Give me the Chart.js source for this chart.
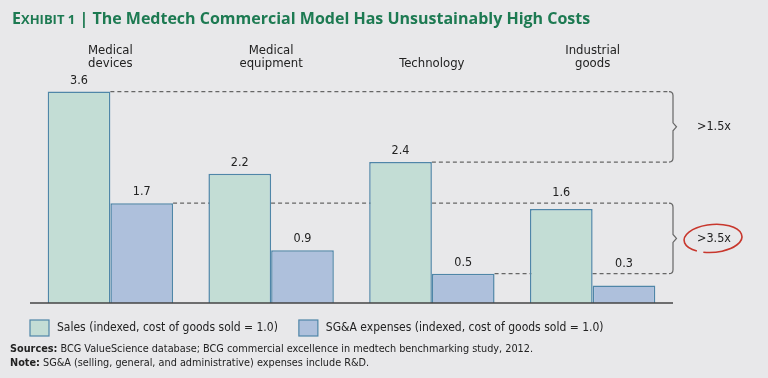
<!DOCTYPE html>
<html>
<head>
<meta charset="utf-8">
<script src="https://cdn.jsdelivr.net/npm/chart.js@4.4.1/dist/chart.umd.min.js"></script>
<style>
  body { margin: 0; background: #e8e8ea; }
  #wrap { position: relative; width: 768px; height: 378px; overflow: hidden; }
  #chart { position: absolute; left: 0; top: 0; }
  .title { position: absolute; left: 12px; top: 7px; color: #1d7a52; font: 700 16px "Open Sans", sans-serif; white-space: nowrap; }
  .title .sc { font-size: 13px; }
  .notes { position: absolute; left: 10px; top: 342px; font: 10.8px "DejaVu Sans Condensed", sans-serif; color: #222; line-height: 14px; white-space: nowrap; }
</style>
</head>
<body>
<div id="wrap">
  <canvas id="chart" width="768" height="378"></canvas>
  <div class="title">E<span class="sc">XHIBIT 1</span> | The Medtech Commercial Model Has Unsustainably High Costs</div>
  <div class="notes"><b>Sources:</b> BCG ValueScience database; BCG commercial excellence in medtech benchmarking study, 2012.<br><b>Note:</b> SG&amp;A (selling, general, and administrative) expenses include R&amp;D.</div>
</div>
<script>
const categories = [['Medical', 'devices'], ['Medical', 'equipment'], 'Technology', ['Industrial', 'goods']];
const salesValues = [3.6, 2.2, 2.4, 1.6];
const sgaValues = [1.7, 0.9, 0.5, 0.3];
const seriesNames = ['Sales (indexed, cost of goods sold = 1.0)', 'SG&A expenses (indexed, cost of goods sold = 1.0)'];
// gaps marked by braces: [dataset, index] of top and bottom line
const gapNotes = [
    { label: '>1.5x', top: [0, 0], bottom: [0, 2], circled: false },
    { label: '>3.5x', top: [1, 0], bottom: [1, 2], circled: true }
];

const textFont = '"DejaVu Sans Condensed", sans-serif';
const borderBlue = '#4f86a8';

// dashed lines: start x (right edge of the bar) and y
function gapLines(chart) {
    const lines = [];
    gapNotes.forEach(note => {
        [note.top, note.bottom].forEach(ref => {
            const bar = chart.getDatasetMeta(ref[0]).data[ref[1]];
            lines.push({ x: bar.x + bar.width / 2, y: bar.y });
        });
    });
    return lines;
}

const annotations = {
    id: 'annotations',
    beforeDatasetsDraw(chart) {
        const ctx = chart.ctx;
        const right = chart.chartArea.right;
        ctx.save();
        ctx.strokeStyle = '#666';
        ctx.lineWidth = 1.2;
        gapNotes.forEach(note => {
            const a = chart.getDatasetMeta(note.top[0]).data[note.top[1]];
            const b = chart.getDatasetMeta(note.bottom[0]).data[note.bottom[1]];
            const y1 = a.y, y2 = b.y, r = 4;
            const x1 = a.x + a.width / 2, x2 = b.x + b.width / 2;
            ctx.setLineDash([4, 3]);
            ctx.beginPath();
            ctx.moveTo(x1, y1); ctx.lineTo(right - r, y1);
            ctx.moveTo(x2, y2); ctx.lineTo(right - r, y2);
            ctx.stroke();
            ctx.setLineDash([]);
            const mid = (y1 + y2) / 2;
            ctx.beginPath();
            ctx.moveTo(right - r, y1);
            ctx.quadraticCurveTo(right, y1, right, y1 + r);
            ctx.lineTo(right, mid - 4);
            ctx.lineTo(right + 3.5, mid);
            ctx.lineTo(right, mid + 4);
            ctx.lineTo(right, y2 - r);
            ctx.quadraticCurveTo(right, y2, right - r, y2);
            ctx.stroke();
        });
        ctx.restore();
    },
    afterDatasetsDraw(chart) {
        const ctx = chart.ctx;
        const area = chart.chartArea;
        const zero = chart.scales.y.getPixelForValue(0);
        const lines = gapLines(chart);
        ctx.save();
        // baseline
        ctx.strokeStyle = '#444';
        ctx.lineWidth = 1.5;
        ctx.beginPath();
        ctx.moveTo(area.left, zero);
        ctx.lineTo(area.right, zero);
        ctx.stroke();
        // value labels, lifted above a dashed line when it would cross them
        ctx.fillStyle = '#222';
        ctx.font = '12.5px ' + textFont;
        ctx.textAlign = 'center';
        ctx.textBaseline = 'bottom';
        chart.data.datasets.forEach((ds, i) => {
            chart.getDatasetMeta(i).data.forEach((bar, j) => {
                let ly = bar.y - 5;
                lines.forEach(l => {
                    if (bar.x > l.x && l.y < bar.y - 1 && l.y > ly - 14) ly = l.y - 4;
                });
                ctx.fillText(ds.data[j].toFixed(1), bar.x, ly);
            });
        });
        // gap labels
        ctx.textAlign = 'left';
        ctx.textBaseline = 'middle';
        ctx.font = '12.5px ' + textFont;
        gapNotes.forEach(note => {
            const a = chart.getDatasetMeta(note.top[0]).data[note.top[1]];
            const b = chart.getDatasetMeta(note.bottom[0]).data[note.bottom[1]];
            const mid = (a.y + b.y) / 2;
            const tx = area.right + 24;
            ctx.fillText(note.label, tx, mid);
            if (note.circled) {
                ctx.strokeStyle = '#c8372d';
                ctx.lineWidth = 1.6;
                ctx.beginPath();
                ctx.ellipse(tx + 16, mid, 29, 14, -0.08, 2.2, 2.2 + Math.PI * 2 - 0.25);
                ctx.stroke();
            }
        });
        ctx.restore();
    },
    afterDraw(chart) {
        const ctx = chart.ctx;
        const left = chart.chartArea.left;
        ctx.save();
        ctx.font = '12px ' + textFont;
        ctx.textBaseline = 'middle';
        let x = left;
        const y = 328;
        chart.data.datasets.forEach(ds => {
            ctx.fillStyle = ds.backgroundColor;
            ctx.strokeStyle = ds.borderColor;
            ctx.lineWidth = 1.2;
            ctx.fillRect(x, y - 8, 19, 16);
            ctx.strokeRect(x, y - 8, 19, 16);
            ctx.fillStyle = '#222';
            ctx.fillText(ds.label, x + 27, y);
            x += 27 + ctx.measureText(ds.label).width + 21;
        });
        ctx.restore();
    }
};

new Chart(document.getElementById('chart'), {
    type: 'bar',
    data: {
        labels: categories,
        datasets: [
            {
                label: seriesNames[0],
                data: salesValues,
                backgroundColor: '#c3ddd5',
                borderColor: borderBlue,
                borderWidth: 1.5
            },
            {
                label: seriesNames[1],
                data: sgaValues,
                backgroundColor: '#aec0dc',
                borderColor: borderBlue,
                borderWidth: 1.5
            }
        ]
    },
    options: {
        responsive: false,
        animation: false,
        categoryPercentage: 0.78,
        barPercentage: 1,
        layout: { padding: { left: 30, right: 95, top: 40, bottom: 75 } },
        plugins: { legend: { display: false }, tooltip: { enabled: false } },
        scales: {
            x: {
                position: 'top',
                grid: { display: false, drawTicks: false },
                border: { display: false },
                ticks: {
                    padding: 4,
                    color: '#222',
                    font: { family: textFont, size: 13, lineHeight: '13px' }
                }
            },
            y: {
                display: false,
                min: 0,
                max: 3.9
            }
        }
    },
    plugins: [annotations]
});
</script>
</body>
</html>
